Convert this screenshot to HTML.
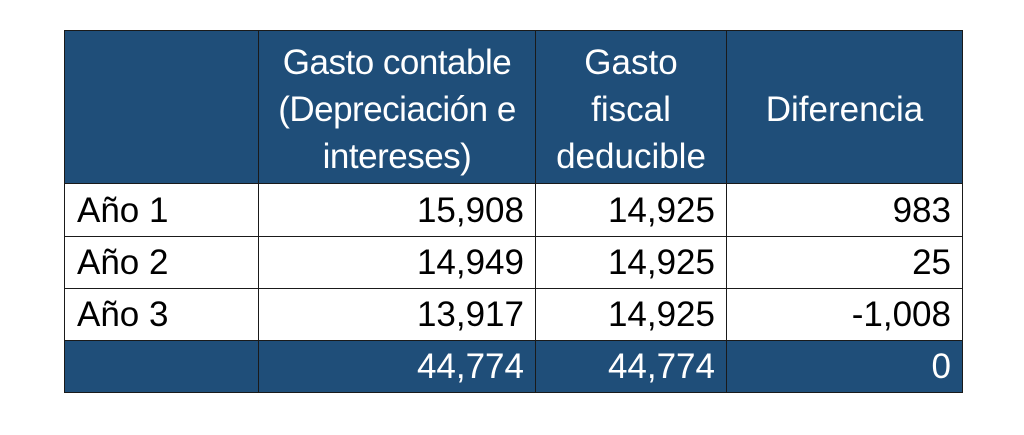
<!DOCTYPE html>
<html><head><meta charset="utf-8"><style>
body{margin:0;width:1024px;height:435px;background:#fff;position:relative;overflow:hidden;font-family:"Liberation Sans",sans-serif;}
.c{position:absolute;box-sizing:border-box;border:1px solid #1a1a1a;display:flex;align-items:center;font-size:35px;line-height:47px;}
.h{background:#1f4e79;color:#fff;justify-content:center;text-align:center;padding-top:4px;}
.r{justify-content:flex-end;padding-right:11px;color:#000;}
.l{justify-content:flex-start;padding-left:12px;color:#000;}
.f{background:#1f4e79;color:#fff;}
</style></head><body>
<div class="c h" style="left:64px;top:30px;width:195px;height:154px"></div>
<div class="c h" style="left:258px;top:30px;width:278px;height:154px;letter-spacing:-0.5px">Gasto contable<br>(Depreciación e<br>intereses)</div>
<div class="c h" style="left:535px;top:30px;width:192px;height:154px">Gasto<br>fiscal<br>deducible</div>
<div class="c h" style="left:726px;top:30px;width:237px;height:154px">Diferencia</div>

<div class="c l" style="left:64px;top:183px;width:195px;height:54px">Año 1</div>
<div class="c r" style="left:258px;top:183px;width:278px;height:54px">15,908</div>
<div class="c r" style="left:535px;top:183px;width:192px;height:54px">14,925</div>
<div class="c r" style="left:726px;top:183px;width:237px;height:54px">983</div>

<div class="c l" style="left:64px;top:236px;width:195px;height:53px">Año 2</div>
<div class="c r" style="left:258px;top:236px;width:278px;height:53px">14,949</div>
<div class="c r" style="left:535px;top:236px;width:192px;height:53px">14,925</div>
<div class="c r" style="left:726px;top:236px;width:237px;height:53px">25</div>

<div class="c l" style="left:64px;top:288px;width:195px;height:53px">Año 3</div>
<div class="c r" style="left:258px;top:288px;width:278px;height:53px">13,917</div>
<div class="c r" style="left:535px;top:288px;width:192px;height:53px">14,925</div>
<div class="c r" style="left:726px;top:288px;width:237px;height:53px">-1,008</div>

<div class="c r f" style="left:64px;top:340px;width:195px;height:53px"></div>
<div class="c r f" style="left:258px;top:340px;width:278px;height:53px">44,774</div>
<div class="c r f" style="left:535px;top:340px;width:192px;height:53px">44,774</div>
<div class="c r f" style="left:726px;top:340px;width:237px;height:53px">0</div>
</body></html>
